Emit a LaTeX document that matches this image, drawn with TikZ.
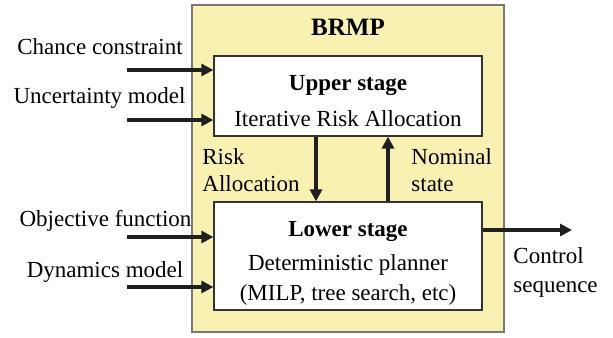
\documentclass[tikz,border=0pt]{standalone}
\usepackage{fontspec}
\setmainfont{Liberation Serif}
\usepackage{xcolor,tikz}
\usetikzlibrary{arrows.meta,positioning,calc}
\definecolor{brmpyellow}{RGB}{248,241,178}
\definecolor{framegray}{RGB}{120,120,120}

\begin{document}
\begin{tikzpicture}[x=0.5pt,y=-0.5pt,
  stagebox/.style={draw=black!80,fill=white,line width=0.6pt,align=center,inner sep=0pt,
    minimum width=134pt,font=\fontsize{11.5}{15}\selectfont},
  flow/.style={-{Triangle[length=6pt,width=6pt]},line width=2pt,draw=black!88},
  lbl/.style={inner sep=0pt,font=\fontsize{11.5}{13}\selectfont},
  sidelbl/.style={lbl,align=left,anchor=west,font=\fontsize{11.5}{13.5}\selectfont}]
\useasboundingbox (0,0) rectangle (613,337);
\node[draw=framegray,fill=brmpyellow,line width=0.6pt,minimum width=156pt,minimum height=163.5pt,inner sep=0pt] (brmp) at (348,168.5) {};
\node[font=\fontsize{12.5}{15}\selectfont\bfseries,inner sep=0pt] (title) at (348,27) {BRMP};
\node[stagebox,minimum height=40pt] (upper) at (348,96) {\rule{0pt}{12.8pt}\textbf{Upper stage}\\[3pt]Iterative Risk Allocation};
\node[stagebox,minimum height=54pt] (lower) at (348,256) {\rule{0pt}{15pt}\textbf{Lower stage}\\[2pt]Deterministic planner\\(MILP, tree search, etc)};
% inputs
\node[lbl] (chance) at (100,47) {Chance constraint};
\node[lbl] (uncert) at (99.5,98) {Uncertainty model};
\node[lbl] (objective) at (105.5,221) {Objective function};
\node[lbl] (dynamics) at (105,272) {Dynamics model};
\coordinate (in1) at (127,70); \coordinate (in2) at (127,120);
\coordinate (in3) at (127,237); \coordinate (in4) at (127,287);
\draw[flow] (in1) -- (in1 -| upper.west);
\draw[flow] (in2) -- (in2 -| upper.west);
\draw[flow] (in3) -- (in3 -| lower.west);
\draw[flow] (in4) -- (in4 -| lower.west);
% between the stages
\draw[flow] ([xshift=-16pt]upper.south) -- ([xshift=-16pt]lower.north);
\draw[flow] ([xshift=20pt]lower.north) -- ([xshift=20pt]upper.south);
\node[sidelbl] (risk) at (202,170) {Risk\\Allocation};
\node[sidelbl] (nominal) at (411,170) {Nominal\\state};
% output
\coordinate (out) at (572,230);
\draw[flow] (out -| lower.east) -- (out);
\node[sidelbl,font=\fontsize{11.5}{14.5}\selectfont] (control) at (513,272.5) {Control\\sequence};
\end{tikzpicture}
\end{document}
